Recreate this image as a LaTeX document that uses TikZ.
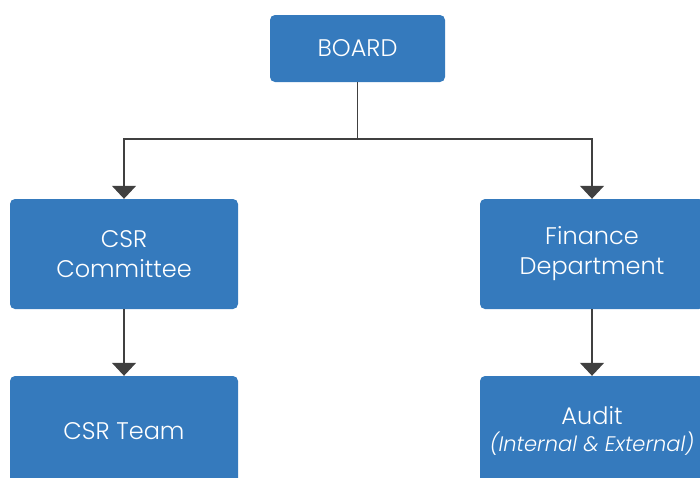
\documentclass[tikz,border=0pt]{standalone}
\usepackage{fontspec}
\setmainfont{Poppins}[UprightFont=* Light, ItalicFont=* Light Italic]
\usetikzlibrary{arrows.meta}
\definecolor{boxblue}{RGB}{53,122,189}
\definecolor{linegray}{RGB}{64,64,64}

\begin{document}
\begin{tikzpicture}[x=1pt,y=-1pt,
	orgbox/.style={draw=none, fill=boxblue, rounded corners=5pt, text=white,
		align=center, inner sep=0pt, font=\fontsize{24}{30}\selectfont},
	link/.style={linegray, line width=1.4pt, -{Triangle[width=24pt,length=13pt]}}]
	\useasboundingbox (0,0) rectangle (700,477);
	\clip (0,0) rectangle (700,477);
	\node [orgbox, minimum width=175pt, minimum height=67pt] (board) at (357.5,48.5) {BOARD};
	\node [orgbox, minimum width=228pt, minimum height=110pt] (committee) at (124,254) {CSR\\Committee};
	\node [orgbox, minimum width=224pt, minimum height=110pt] (finance) at (592,254) {Finance\\Department};
	\node [orgbox, minimum width=228pt, minimum height=110pt] (team) at (124,431) {CSR Team};
	\node [orgbox, minimum width=224pt, minimum height=110pt] (audit) at (592,431)
		{Audit\\[-3pt]{\fontsize{21}{22}\selectfont\itshape (Internal \& External)}};
	\coordinate (split) at (357.5,139);
	\draw [link] (board.south) -- (split) -| (committee.north);
	\draw [link] (split) -| (finance.north);
	\draw [link] (committee.south) -- (team.north);
	\draw [link] (finance.south) -- (audit.north);
\end{tikzpicture}
\end{document}
